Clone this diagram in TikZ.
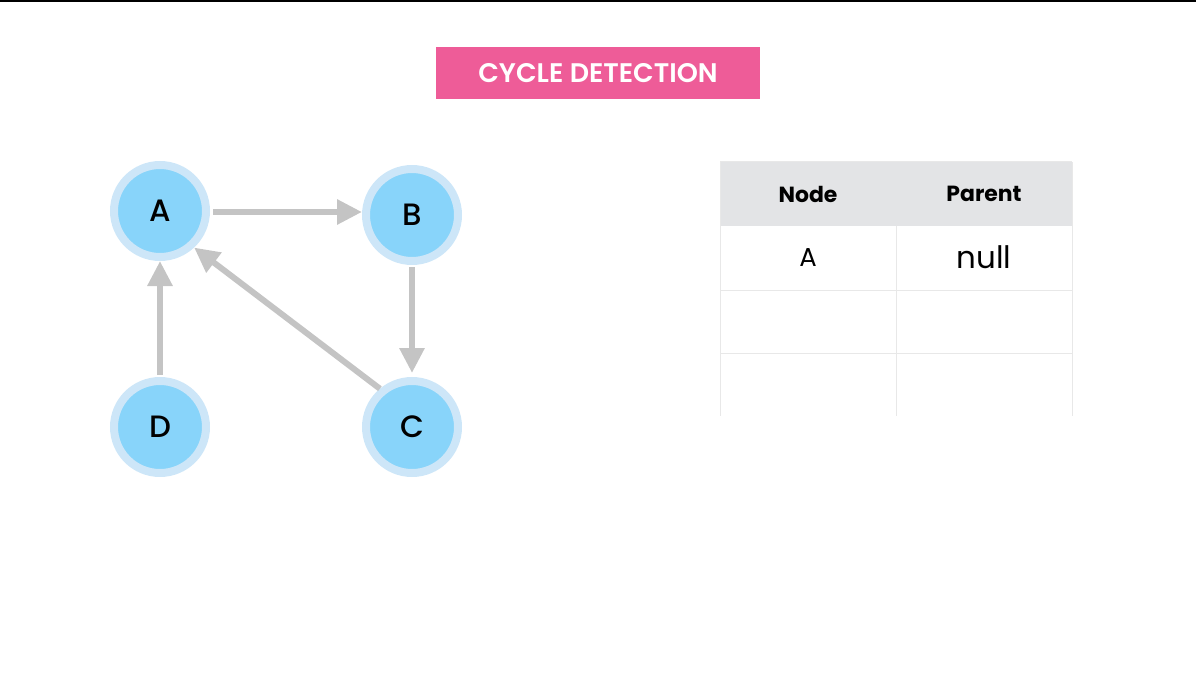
\documentclass[tikz,border=0pt]{standalone}
\usepackage{fontspec}
\setmainfont{Poppins}
\newfontfamily\pmed{Poppins}[UprightFont={* Medium}]
\newfontfamily\psemi{Poppins}[UprightFont={* SemiBold}]
\usetikzlibrary{arrows.meta}
\definecolor{pinkc}{HTML}{EE5C98}
\definecolor{ringc}{HTML}{CDE6F8}
\definecolor{fillc}{HTML}{88D4FA}
\definecolor{edgec}{HTML}{C4C4C4}
\definecolor{headc}{HTML}{E3E4E6}
\definecolor{gridc}{HTML}{E8E8E8}
\tikzset{
  vert/.style={circle, fill=fillc, draw=ringc, line width=8bp, minimum size=92bp, inner sep=0pt, font=\pmed\fontsize{31}{34}\selectfont},
  edge/.style={draw=edgec, line width=6bp, -{Triangle[length=25bp,width=24bp]}},
  cell/.style={inner sep=0pt},
}
\begin{document}
\begin{tikzpicture}[x=1bp,y=-1bp]
\useasboundingbox (0,0) rectangle (1196,674);
\fill[black] (0,0) rectangle (1196,2);
% title
\node[fill=pinkc, minimum width=324bp, minimum height=52bp, inner sep=0pt, text=white, font=\psemi\fontsize{27}{32}\selectfont] (title) at (598,73) {CYCLE DETECTION};
% graph
\node[vert] (A) at (160,211) {A};
\node[vert] (B) at (412,215) {B};
\node[vert] (C) at (412,427) {C};
\node[vert] (D) at (160,427) {D};
\draw[edge] ([xshift=3bp,yshift=-1bp]A.east) -- ([xshift=0bp,yshift=-1bp]A.east -| B.west);
\draw[edge] ([yshift=-2bp]B.south) -- ([yshift=4bp]C.north);
\draw[edge] ([yshift=2bp]D.north) -- (A.south);
\draw[edge] (C.130) -- (A.-47);
% table
\fill[headc] (720,162) rectangle (1072,226);
\draw[gridc, line width=1bp] (720,162) -- (1072,162);
\draw[gridc, line width=1bp] (720,162) -- (720,416);
\draw[gridc, line width=1bp] (1072,162) -- (1072,416);
\draw[gridc, line width=1bp] (896,226) -- (896,416);
\draw[gridc, line width=1bp] (720,290) -- (1072,290);
\draw[gridc, line width=1bp] (720,353) -- (1072,353);
\node[cell, font=\fontsize{22}{26}\selectfont\bfseries] (h1) at (808,194) {Node};
\node[cell, font=\fontsize{22}{26}\selectfont\bfseries] (h2) at (984,194) {Parent};
\node[cell, font=\fontsize{26}{30}\selectfont] (r1) at (808,258) {A};
\node[cell, font=\fontsize{31}{35}\selectfont] (r2) at (984,257) {null};
\end{tikzpicture}
\end{document}
